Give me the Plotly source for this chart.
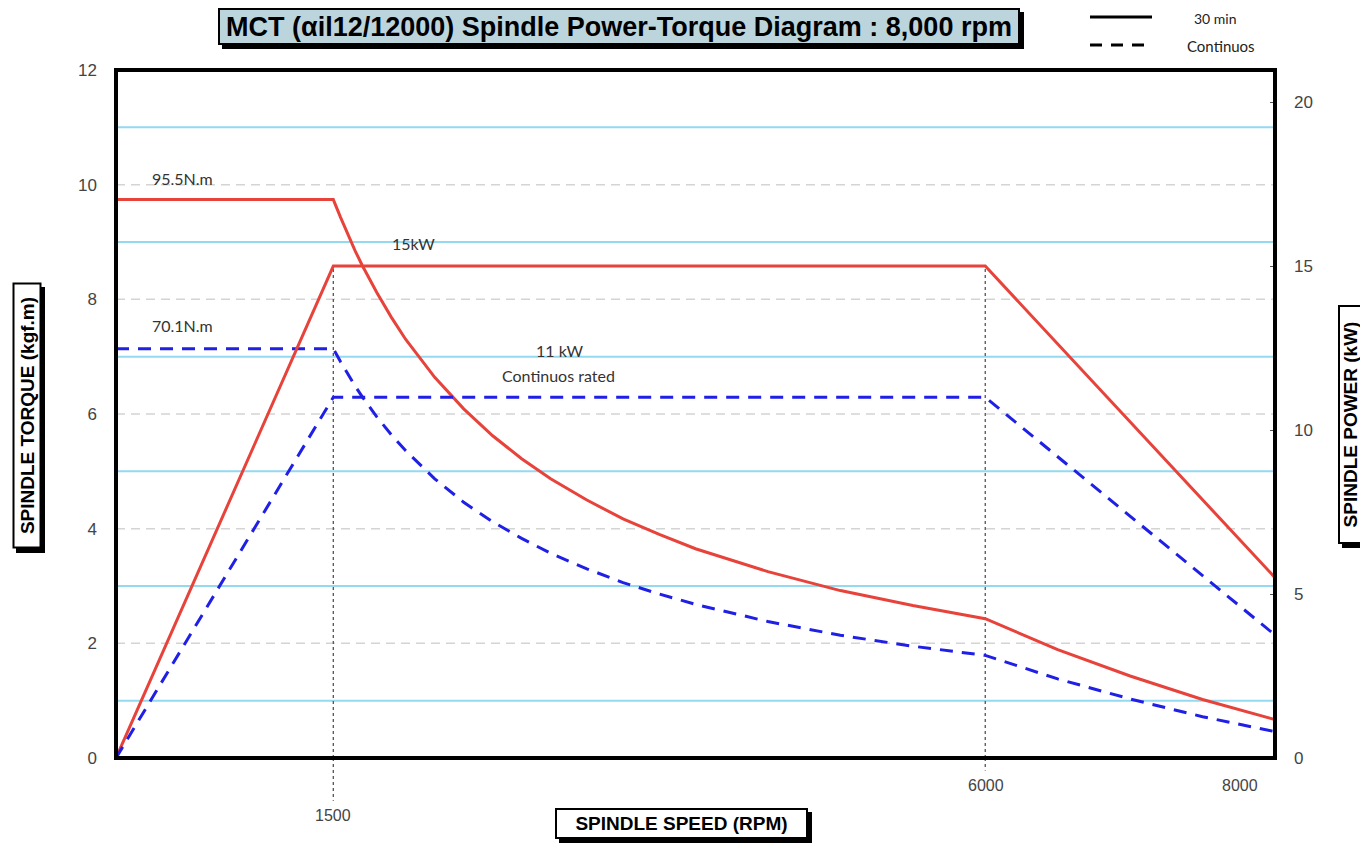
import plotly.graph_objects as go

# spindle speed (rpm) and torque (kgf.m)
rpm = [0, 1500, 1550, 1600, 1650, 1700, 1800, 1900, 2000, 2200, 2400, 2600, 2800, 3000,
       3250, 3500, 3750, 4000, 4500, 5000, 5500, 6000, 6500, 7000, 7500, 8000]
torque_30min = [9.74, 9.74, 9.43, 9.13, 8.85, 8.59, 8.12, 7.69, 7.30, 6.64, 6.09, 5.62,
                5.22, 4.87, 4.50, 4.17, 3.90, 3.65, 3.25, 2.92, 2.66, 2.43, 1.89, 1.43,
                1.02, 0.67]
torque_cont = [7.14, 7.14, 6.91, 6.69, 6.49, 6.30, 5.95, 5.64, 5.36, 4.87, 4.46, 4.12,
               3.83, 3.57, 3.30, 3.06, 2.86, 2.68, 2.38, 2.14, 1.95, 1.79, 1.38, 1.03,
               0.72, 0.46]

# spindle power (kW)
rpm_power = [0, 1500, 6000, 8000]
power_30min = [0, 15, 15, 5.5]
power_cont = [0, 11, 11, 3.75]

torque_ticks = [0, 2, 4, 6, 8, 10, 12]
power_ticks = [0, 5, 10, 15, 20]
grid_solid = [1, 3, 5, 7, 9, 11]
grid_dashed = [2, 4, 6, 8, 10]
speed_marks = [1500, 6000, 8000]

RED = "#e8433b"
BLUE = "#1f1fe6"
ARIAL = "Liberation Sans, Arial"
CALIBRI = "Lato, Open Sans, Liberation Sans"

fig = go.Figure()

fig.add_trace(go.Scatter(x=rpm, y=torque_30min, mode="lines",
                         line=dict(color=RED, width=3), name="30 min"))
fig.add_trace(go.Scatter(x=rpm, y=torque_cont, mode="lines",
                         line=dict(color=BLUE, width=3, dash="13px,9px"), name="Continuos"))
fig.add_trace(go.Scatter(x=rpm_power, y=power_30min, mode="lines", yaxis="y2",
                         line=dict(color=RED, width=3), showlegend=False))
fig.add_trace(go.Scatter(x=rpm_power, y=power_cont, mode="lines", yaxis="y2",
                         line=dict(color=BLUE, width=3, dash="13px,9px"), showlegend=False))


# screen pixel -> paper coords (plot area spans 116..1275 x 70..758 on screen)
def px(x):
    return (x - 116) / 1159


def py(y):
    return (758 - y) / 688


shapes = []
# gridlines
for g in grid_solid:
    shapes.append(dict(type="line", xref="paper", yref="y", x0=0, x1=1, y0=g, y1=g,
                       line=dict(color="#93d9f0", width=2), layer="below"))
for g in grid_dashed:
    shapes.append(dict(type="line", xref="paper", yref="y", x0=0, x1=1, y0=g, y1=g,
                       line=dict(color="#d4d4d4", width=1.5, dash="9px,6px"), layer="below"))

# dotted guide lines at 1500 and 6000 rpm
for s, below in [(1500, -0.062), (6000, -0.018)]:
    shapes.append(dict(type="line", xref="x", yref="y2", x0=s, x1=s, y0=0, y1=15,
                       line=dict(color="#555555", width=1.3, dash="3px,3px"), layer="below"))
    shapes.append(dict(type="line", xref="x", yref="paper", x0=s, x1=s, y0=0, y1=below,
                       line=dict(color="#555555", width=1.3, dash="3px,3px")))

# thick frame
shapes.append(dict(type="rect", xref="paper", yref="paper", x0=0, x1=1, y0=0, y1=1,
                   line=dict(color="black", width=4)))

# hand-drawn legend
shapes.append(dict(type="line", xref="paper", yref="paper", x0=px(1090), x1=px(1152),
                   y0=py(17), y1=py(17), line=dict(color="black", width=3)))
shapes.append(dict(type="line", xref="paper", yref="paper", x0=px(1090), x1=px(1152),
                   y0=py(45), y1=py(45), line=dict(color="black", width=3, dash="12px,9px")))

annotations = []


def note(x, y, text, size=16, color="#333333", xanchor="center", family=CALIBRI):
    annotations.append(dict(xref="paper", yref="paper", x=px(x), y=py(y), text=text,
                            showarrow=False, xanchor=xanchor, yanchor="middle",
                            font=dict(family=family, size=size, color=color)))


note(1215, 18, "30 min", size=14, color="#222222")
note(1221, 46, "Continuos", size=15, color="#222222")

note(150, 179, "95.5N.m", size=16, xanchor="left")
note(390, 243, "15kW", size=16, xanchor="left")
note(150, 325, "70.1N.m", size=16, xanchor="left")
note(559, 351, "11 kW", size=16)
note(558, 375, "Continuos rated", size=16)

# x tick labels (1500 sits lower than the others)
label_y = [815, 785, 785]
label_x = [333, 986, 1240]
for v, lx, ly in zip(speed_marks, label_x, label_y):
    note(lx, ly, str(v), size=16, color="#444444", family=ARIAL)


# boxed titles with a drop shadow; box given in screen pixels
def boxed(x0, y0, x1, y1, text, size, bg="white", angle=0):
    shapes.append(dict(type="rect", xref="paper", yref="paper",
                       x0=px(x0 + 4), x1=px(x1 + 4), y0=py(y0 + 4), y1=py(y1 + 4),
                       fillcolor="black", line=dict(width=0)))
    w, h = x1 - x0, y1 - y0
    if angle:
        w, h = h, w
    annotations.append(dict(xref="paper", yref="paper", x=px((x0 + x1) / 2), y=py((y0 + y1) / 2),
                            text=text, showarrow=False, xanchor="center", yanchor="middle",
                            textangle=angle, width=w - 4, height=h - 4, borderpad=0,
                            borderwidth=2, bordercolor="black", bgcolor=bg,
                            font=dict(family=ARIAL, size=size, color="black")))


boxed(218, 8, 1020, 45, "<b>MCT (αil12/12000) Spindle Power-Torque Diagram : 8,000 rpm</b>", 27,
      bg="#bcd5dd")
boxed(12, 283, 41, 549, "<b>SPINDLE TORQUE (kgf.m)</b>", 19, angle=-90)
boxed(1338, 305, 1363, 544, "<b>SPINDLE POWER (kW)</b>", 19, angle=-90)
boxed(555, 808, 808, 839, "<b>SPINDLE SPEED (RPM)</b>", 19)

# page body has an 8px margin, so shift the whole figure up/left by 8px
fig.update_layout(
    width=1360, height=838,
    margin=dict(l=108, r=93, t=62, b=88),
    paper_bgcolor="white", plot_bgcolor="white",
    showlegend=False,
    xaxis=dict(range=[0, 8000], showgrid=False, zeroline=False, showticklabels=False,
               ticks="", automargin=False),
    yaxis=dict(range=[0, 12], tickvals=torque_ticks, showgrid=False, zeroline=False,
               tickfont=dict(family=ARIAL, size=17, color="#444444"),
               ticks="", ticklabelstandoff=18, automargin=False),
    yaxis2=dict(range=[0, 20.98], tickvals=power_ticks, overlaying="y", side="right",
                showgrid=False, zeroline=False,
                tickfont=dict(family=ARIAL, size=17, color="#444444"),
                ticks="inside", ticklen=5, tickcolor="#555555",
                ticklabelstandoff=18, automargin=False),
    shapes=shapes,
    annotations=annotations,
)

fig.write_html("out.html")
